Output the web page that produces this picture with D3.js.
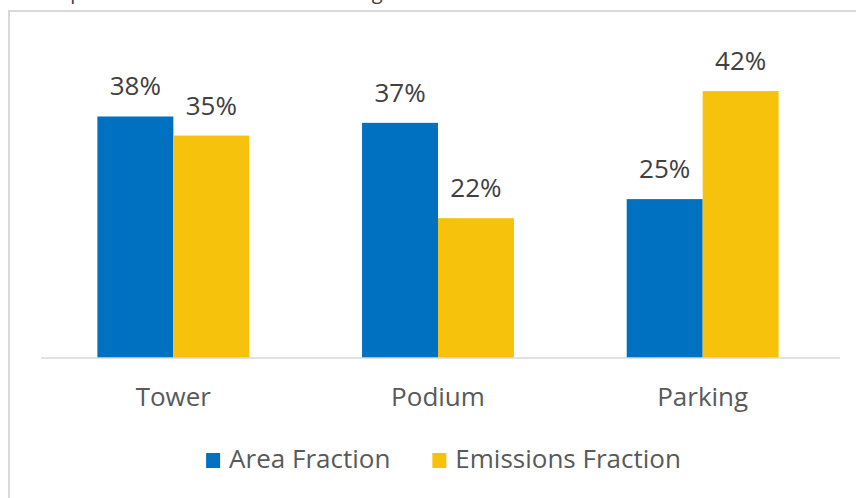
<!DOCTYPE html>
<html>
<head>
<meta charset="utf-8">
<script src="https://cdn.jsdelivr.net/npm/d3@7/dist/d3.min.js"></script>
<style>
  html, body { margin: 0; padding: 0; background: #ffffff; }
  svg { display: block; font-family: "Open Sans", sans-serif; }
</style>
</head>
<body>
<svg id="chart" width="856" height="498"></svg>
<script>
// Building segments along the x axis
const categories = ["Tower", "Podium", "Parking"];
// Series names, in legend order
const seriesNames = ["Area Fraction", "Emissions Fraction"];
// Percent values per segment
const areaFraction = [38, 37, 25];
const emissionsFraction = [35, 22, 42];
const seriesColors = ["#0070C0", "#F7C20C"];
const titleText = "Comparison of Area Share vs. Building Emissions";

const seriesValues = [areaFraction, emissionsFraction];
const rows = categories.map((c, i) => ({
  category: c,
  values: seriesNames.map((s, j) => ({ series: s, value: seriesValues[j][i], color: seriesColors[j] }))
}));

const svg = d3.select("#chart");

// Title sits above the frame; only its descenders fall inside the view
svg.append("text")
  .attr("x", 27).attr("y", -1)
  .attr("font-size", 20)
  .attr("fill", "#404040")
  .text(titleText);

// Chart frame
svg.append("rect")
  .attr("x", 9).attr("y", 11)
  .attr("width", 900).attr("height", 520)
  .attr("fill", "#ffffff")
  .attr("stroke", "#d9d9d9")
  .attr("stroke-width", 2);

const x0 = d3.scaleBand()
  .domain(categories)
  .range([41, 835])
  .paddingInner(0.426)
  .paddingOuter(0.213);

const x1 = d3.scaleBand()
  .domain(seriesNames)
  .range([0, x0.bandwidth()]);

const y = d3.scaleLinear()
  .domain([0, 45])
  .range([358, 72]);

// Bars
const groups = svg.append("g").selectAll("g")
  .data(rows)
  .join("g")
  .attr("transform", d => `translate(${x0(d.category)},0)`);

groups.selectAll("rect")
  .data(d => d.values)
  .join("rect")
  .attr("x", d => x1(d.series))
  .attr("y", d => y(d.value))
  .attr("width", x1.bandwidth())
  .attr("height", d => y(0) - y(d.value))
  .attr("fill", d => d.color);

// Value labels
groups.selectAll("text")
  .data(d => d.values)
  .join("text")
  .attr("x", d => x1(d.series) + x1.bandwidth() / 2)
  .attr("y", d => y(d.value) - 21)
  .attr("text-anchor", "middle")
  .attr("font-size", 26)
  .attr("fill", "#404040")
  .text(d => d.value + "%");

// Category axis
const xAxis = svg.append("g")
  .attr("transform", `translate(0,${y(0)})`)
  .call(d3.axisBottom(x0).tickSize(0).tickPadding(0));
xAxis.select(".domain").remove();
xAxis.append("line")
  .attr("x1", 41).attr("x2", 840)
  .attr("y1", 0).attr("y2", 0)
  .attr("stroke", "#d9d9d9")
  .attr("stroke-width", 1.5);
xAxis.selectAll(".tick text")
  .attr("y", 48)
  .attr("dy", 0)
  .attr("font-size", 26)
  .attr("font-family", "'Open Sans', sans-serif")
  .attr("fill", "#595959");

// Legend
const legend = svg.append("g");
const items = legend.selectAll("g")
  .data(seriesNames)
  .join("g");
items.append("rect")
  .attr("x", 0).attr("y", -15)
  .attr("width", 14).attr("height", 15)
  .attr("fill", (d, i) => seriesColors[i]);
items.append("text")
  .attr("x", 23).attr("y", 0)
  .attr("font-size", 26)
  .attr("fill", "#595959")
  .text(d => d);

let offset = 0;
items.each(function () {
  const w = 23 + d3.select(this).select("text").node().getComputedTextLength();
  d3.select(this).attr("transform", `translate(${offset},0)`);
  offset += w + 42;
});
const legendWidth = offset - 42;
legend.attr("transform", `translate(${443.5 - legendWidth / 2},468)`);
</script>
</body>
</html>
